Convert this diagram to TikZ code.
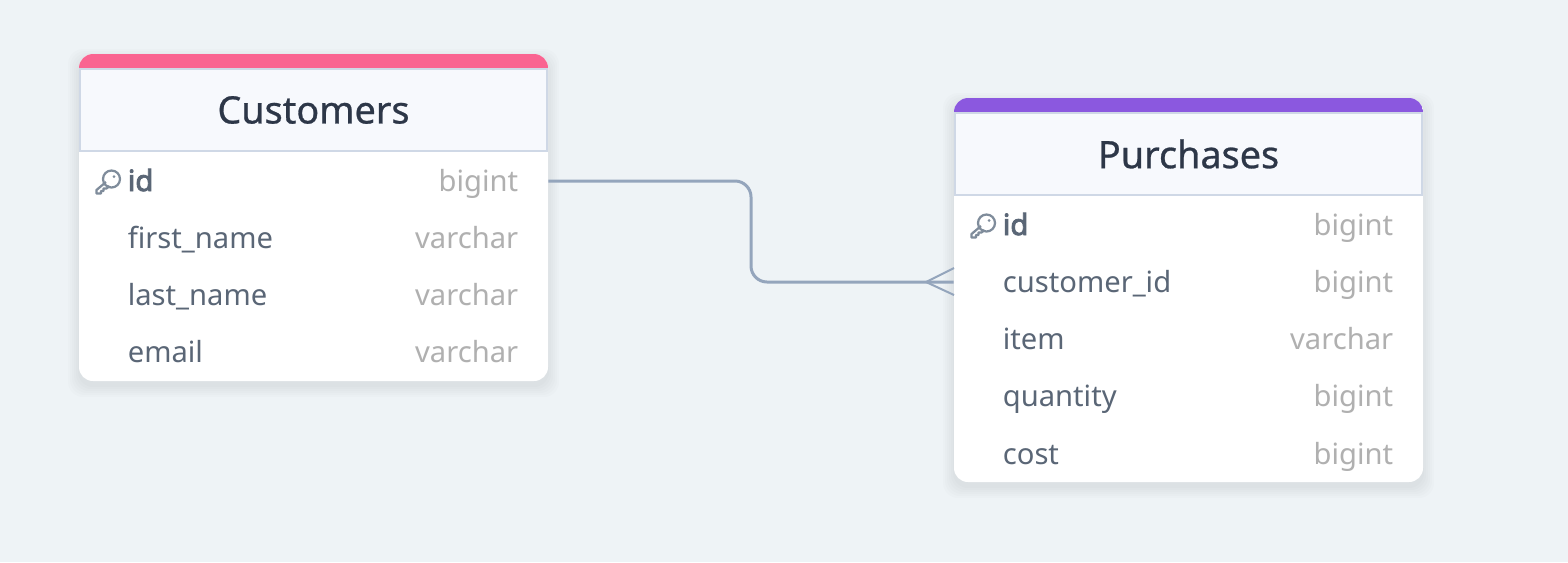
\documentclass[tikz,border=0pt]{standalone}
\usepackage{fontspec}
\setmainfont{Noto Sans}
\newfontfamily\idfont[FakeBold=3]{Noto Sans}
\newfontfamily\titlefont[FakeBold=0.7]{Noto Sans}
\definecolor{pagebg}{HTML}{EEF3F6}
\definecolor{headbg}{HTML}{F7F9FD}
\definecolor{headline}{HTML}{CFD8E6}
\definecolor{titleink}{HTML}{2D3748}
\definecolor{rowink}{HTML}{5A6676}
\definecolor{typeink}{HTML}{B0B0B0}
\definecolor{linkink}{HTML}{94A5BC}
\definecolor{keyink}{HTML}{7F8C9B}
\definecolor{custband}{HTML}{FA6491}
\definecolor{purchband}{HTML}{8B58DF}
\tikzset{
    titlebox/.style={draw=headline, line width=0.4mm, fill=headbg, text=titleink, font=\fontsize{21.5}{26}\titlefont,
        minimum width=9.36cm, minimum height=1.64cm, inner sep=0pt},
    rowbox/.style={minimum width=9.38cm, minimum height=1.14cm, inner sep=0pt},
    rowname/.style={anchor=base west, text=rowink, font=\fontsize{16.6}{20}\selectfont, inner sep=0pt},
    rowkind/.style={anchor=base east, text=typeink, font=\fontsize{16.6}{20}\selectfont, inner sep=0pt},
    idname/.style={rowname, font=\fontsize{16.6}{20}\idfont},
    linkline/.style={draw=linkink, line width=0.6mm},
    keyicon/.pic={
        \draw[keyink, line width=0.45mm, line join=round] (-5.5,3) -- (-15,11) -- (-15,14.5) -- (-10.5,14.5) -- (-10.5,12) -- (-8,12) -- (-8,9.5) -- (-5,9.5) -- (-2,7);
        \draw[keyink, line width=0.45mm] (0,0) circle (8.5);
        \fill[keyink] (2.5,-2.5) circle (1.5);
    }
}
\begin{document}
\begin{tikzpicture}[x=0.02cm, y=-0.02cm]
    \fill[pagebg] (0,0) rectangle (1568,562);
    \useasboundingbox (0,0) rectangle (1568,562);

    % soft shadows
    \foreach \g in {1,3,...,11} {
        \fill[black, opacity=0.01, rounded corners=3mm] (79-\g,54+6-\g) rectangle (548+\g,381+5+\g);
        \fill[black, opacity=0.01, rounded corners=3mm] (954-\g,98+6-\g) rectangle (1423+\g,482+5+\g);
    }

    % Customers
    \fill[white, rounded corners=2.8mm] (79,54) rectangle (548,381);
    \begin{scope}
        \clip[rounded corners=2.8mm] (79,54) rectangle (548,381);
        \fill[custband] (79,54) rectangle (548,69);
    \end{scope}
    \node[titlebox] (customers) at (313.5,110) {Customers};
    \node[rowbox] (customers-id) at (313.5,181) {};
    \node[idname] (customers-idname) at (127.5,191) {id};
    \node[rowkind] (customers-idkind) at (518.5,191) {bigint};
    \pic at (111.5,179) {keyicon};
    \foreach \lbl/\kind/\y/\tag in {first\_name/varchar/248/first,last\_name/varchar/305/last,email/varchar/362/email} {
        \node[rowname] (customers-\tag) at (127.5,\y) {\lbl};
        \node[rowkind] (customers-\tag kind) at (518.5,\y) {\kind};
    }

    % Purchases
    \fill[white, rounded corners=2.8mm] (954,98) rectangle (1423,482);
    \begin{scope}
        \clip[rounded corners=2.8mm] (954,98) rectangle (1423,482);
        \fill[purchband] (954,98) rectangle (1423,113);
    \end{scope}
    \node[titlebox] (purchases) at (1188.5,154) {Purchases};
    \node[rowbox] (purchases-customer) at (1188.5,282) {};
    \node[idname] (purchases-idname) at (1002.5,235) {id};
    \node[rowkind] (purchases-idkind) at (1393.5,235) {bigint};
    \pic at (986.5,223) {keyicon};
    \foreach \lbl/\kind/\y/\tag in {customer\_id/bigint/292/cust,item/varchar/349/item,quantity/bigint/406/qty,cost/bigint/464/cost} {
        \node[rowname] (purchases-\tag) at (1002.5,\y) {\lbl};
        \node[rowkind] (purchases-\tag kind) at (1393.5,\y) {\kind};
    }

    % relation
    \draw[linkline, rounded corners=3.2mm] (customers-id.east) -- (751,181) -- (751,282) -- (purchases-customer.west);
    \coordinate (crowtip) at (926,282);
    \coordinate (crowtop) at (954,268);
    \coordinate (crowbot) at (954,295);
    \draw[linkline, line width=0.4mm] (crowtop) -- (crowtip) -- (crowbot);
\end{tikzpicture}
\end{document}
